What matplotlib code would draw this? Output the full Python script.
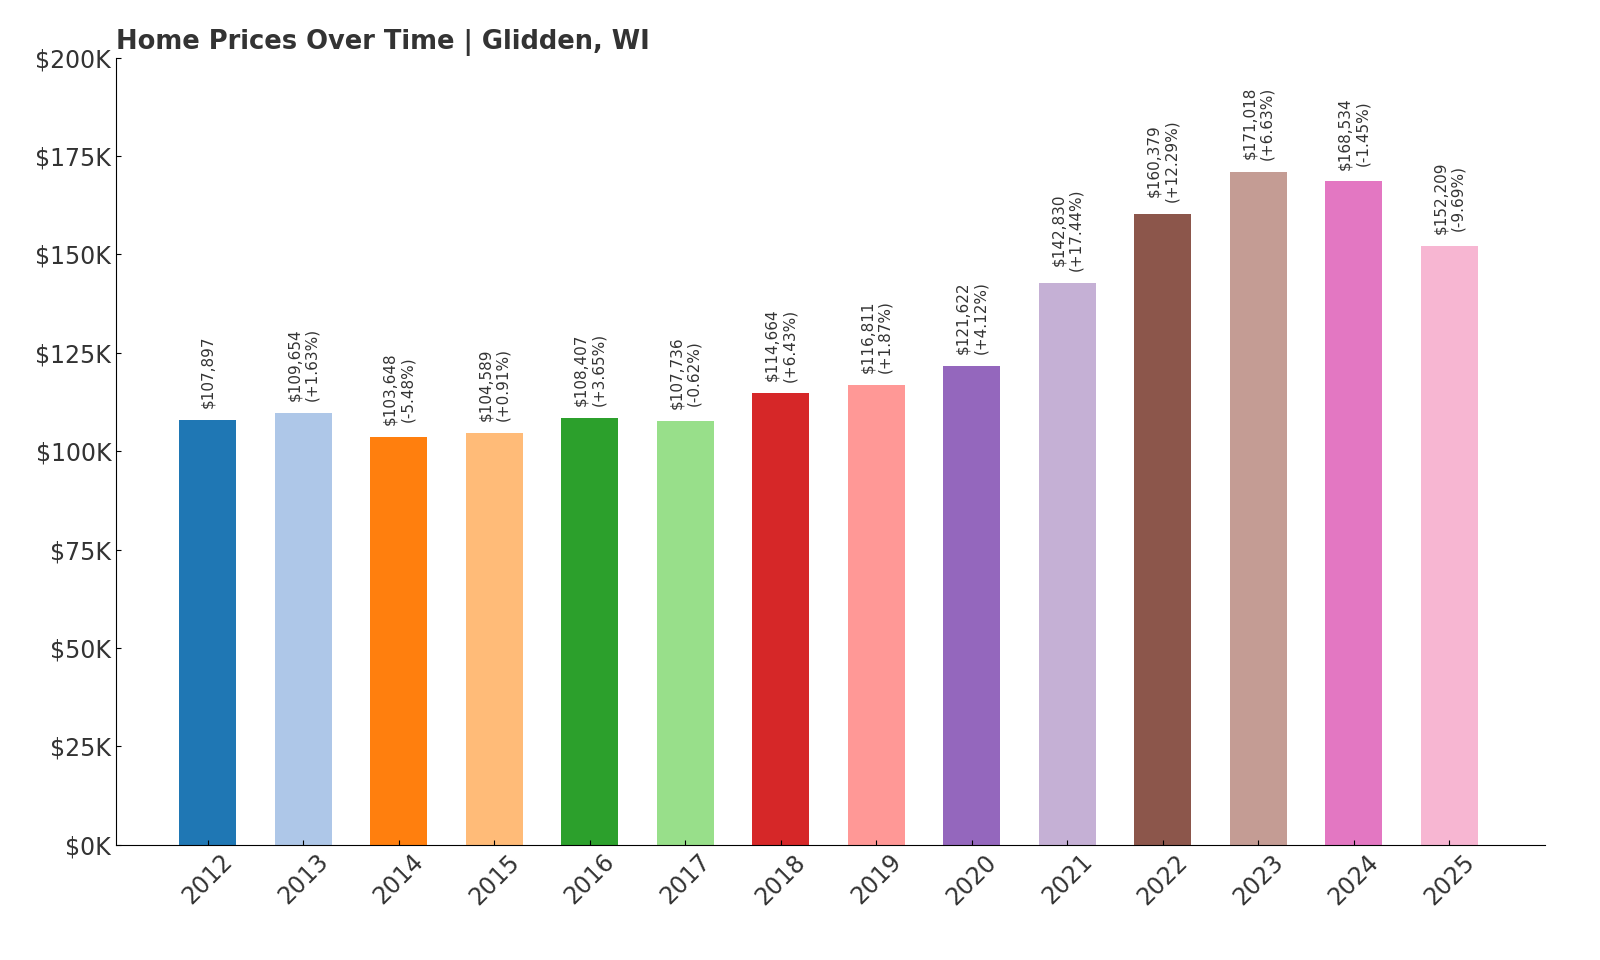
import matplotlib
matplotlib.use("Agg")
import matplotlib.pyplot as plt

years = ["2012","2013","2014","2015","2016","2017","2018","2019","2020","2021","2022","2023","2024","2025"]
prices = [107897,109654,103648,104589,108407,107736,114664,116811,121622,142830,160379,171018,168534,152209]
changes = [None,"+1.63%","-5.48%","+0.91%","+3.65%","-0.62%","+6.43%","+1.87%","+4.12%","+17.44%","+12.29%","+6.63%","-1.45%","-9.69%"]

colors = plt.get_cmap("tab20").colors[:len(years)]

fig = plt.figure(figsize=(16, 9.6), dpi=100)
ax = fig.add_axes([0.0725, 0.12, 0.893, 0.82])
x = range(len(years))
ax.bar(x, prices, width=0.6, color=colors)
for i, (p, c) in enumerate(zip(prices, changes)):
    label = f"${p:,}" if c is None else f"${p:,}\n({c})"
    ax.text(i, p + 3000, label, rotation=90, ha="center", va="bottom", fontsize=11, color="#333333")
ax.set_ylim(0, 200000)
ax.set_xlim(-0.96, 14.0)
ax.set_yticks(range(0, 200001, 25000))
ax.set_yticklabels([f"${v//1000}K" for v in range(0, 200001, 25000)], fontsize=17, color="#333333")
ax.set_xticks(list(x))
ax.set_xticklabels(years, rotation=45, fontsize=17, color="#333333")
ax.tick_params(direction="in")
for s in ["top", "right"]:
    ax.spines[s].set_visible(False)
ax.set_title("Home Prices Over Time | Glidden, WI", loc="left", fontsize=18.5, fontweight="bold", color="#333333")
fig.savefig("out.png")
